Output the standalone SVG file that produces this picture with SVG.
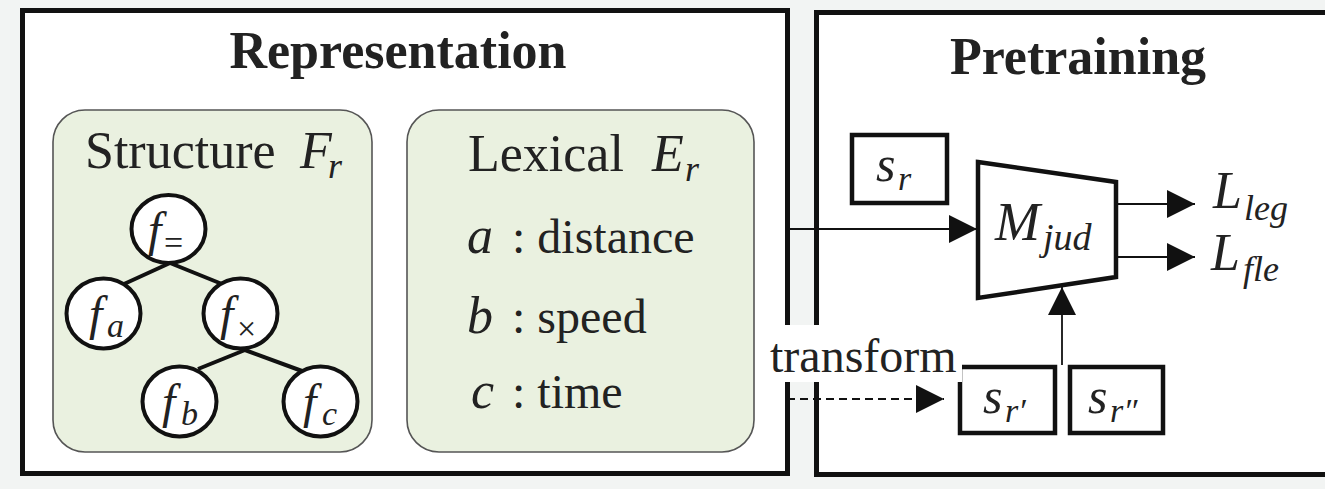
<svg xmlns="http://www.w3.org/2000/svg" width="1325" height="489" viewBox="0 0 1325 489">
<defs>
<style>
.panel{fill:#ffffff;stroke:#111;stroke-width:5}
.sub{fill:#eaf1e0;stroke:#555;stroke-width:1.6}
.title{font-family:"Liberation Serif","Times New Roman",serif;font-weight:bold;font-size:52px;fill:#222;text-anchor:middle}
.rm{font-family:"Liberation Serif","Times New Roman",serif;font-weight:normal;font-style:normal;fill:#222}
.it{font-family:"Liberation Serif","Times New Roman",serif;font-weight:normal;font-style:italic;fill:#222}
.up{font-style:normal}
.node{fill:#fff;stroke:#111;stroke-width:4}
.box{fill:#fff;stroke:#111;stroke-width:4.5}
.edge{stroke:#111;stroke-width:4;fill:none}
.conn{stroke:#111;stroke-width:1.8;fill:none}
</style>
<marker id="ah" viewBox="0 0 28 28" refX="28" refY="14" markerWidth="28" markerHeight="28" markerUnits="userSpaceOnUse" orient="auto">
<path d="M0,0 L28,14 L0,28 z" fill="#111"/>
</marker>
</defs>
<rect x="0" y="0" width="1325" height="489" fill="#f2f4f3"/>

<g id="representation">
<rect class="panel" x="22.5" y="10.5" width="765" height="463"/>
<text class="title" x="398" y="68">Representation</text>
</g>

<g id="pretraining">
<rect class="panel" x="816.5" y="12.5" width="530" height="462"/>
<text class="title" x="1078" y="74">Pretraining</text>
</g>

<g id="structure">
<rect class="sub" x="53" y="110" width="319" height="342" rx="32"/>
<text class="rm" x="85" y="168" font-size="52">Structure</text>
<text class="it" x="300" y="168" font-size="52">F</text>
<text class="it" x="328" y="178" font-size="36">r</text>
</g>

<g id="tree-edges">
<line class="edge" x1="170" y1="263" x2="124" y2="284"/>
<line class="edge" x1="170" y1="263" x2="222" y2="284"/>
<line class="edge" x1="245" y1="350" x2="198" y2="369"/>
<line class="edge" x1="245" y1="350" x2="302" y2="371"/>
</g>

<g id="node-feq">
<ellipse class="node" cx="168.5" cy="229" rx="37" ry="34"/>
<text class="it" x="148" y="246" font-size="48">f</text>
<text class="it up" x="164" y="254" font-size="34">=</text>
</g>
<g id="node-fa">
<ellipse class="node" cx="103.5" cy="313.5" rx="37" ry="35"/>
<text class="it" x="89" y="330" font-size="48">f</text>
<text class="it" x="107" y="337" font-size="34">a</text>
</g>
<g id="node-fx">
<ellipse class="node" cx="240.5" cy="313.5" rx="37" ry="35"/>
<text class="it" x="220" y="330" font-size="48">f</text>
<text class="it up" x="237" y="340" font-size="34">×</text>
</g>
<g id="node-fb">
<ellipse class="node" cx="179.5" cy="401.5" rx="37" ry="35"/>
<text class="it" x="162" y="418" font-size="48">f</text>
<text class="it" x="181" y="425" font-size="34">b</text>
</g>
<g id="node-fc">
<ellipse class="node" cx="320.5" cy="401.5" rx="37" ry="35"/>
<text class="it" x="303" y="418" font-size="48">f</text>
<text class="it" x="322" y="425" font-size="34">c</text>
</g>

<g id="lexical">
<rect class="sub" x="407" y="110" width="347" height="342" rx="32"/>
<text class="rm" x="468" y="171" font-size="52">Lexical</text>
<text class="it" x="652" y="171" font-size="52">E</text>
<text class="it" x="685" y="181" font-size="36">r</text>
<text class="it" x="467" y="253" font-size="52">a</text>
<text class="rm" x="512" y="253" font-size="48">: distance</text>
<text class="it" x="467" y="333" font-size="52">b</text>
<text class="rm" x="512" y="333" font-size="48">: speed</text>
<text class="it" x="471" y="408" font-size="52">c</text>
<text class="rm" x="512" y="408" font-size="48">: time</text>
</g>

<g id="sr">
<rect class="box" x="852" y="135" width="95" height="68"/>
<text class="it" x="876" y="181" font-size="50">s</text>
<text class="it" x="898" y="190" font-size="34">r</text>
</g>

<g id="mjud">
<polygon class="box" stroke-width="3.5" points="978,162 1116,182 1116,277 978,298"/>
<text class="it" x="995" y="240" font-size="54">M</text>
<text class="it" x="1043" y="250" font-size="38">jud</text>
</g>

<g id="srp">
<rect class="box" x="960" y="367" width="95" height="66"/>
<text class="it" x="983" y="413" font-size="50">s</text>
<text class="it" x="1005" y="422" font-size="34">r′</text>
</g>

<g id="srpp">
<rect class="box" x="1070" y="367" width="93" height="66"/>
<text class="it" x="1088" y="413" font-size="50">s</text>
<text class="it" x="1110" y="422" font-size="34">r″</text>
</g>

<g id="loss-leg">
<text class="it" x="1213" y="208" font-size="52">L</text>
<text class="it" x="1244" y="220" font-size="36">leg</text>
</g>
<g id="loss-fle">
<text class="it" x="1211" y="270" font-size="52">L</text>
<text class="it" x="1243" y="281" font-size="36">fle</text>
</g>

<g id="transform-label">
<rect x="768" y="325" width="194" height="57" fill="#ffffff"/>
<text class="rm" x="770" y="372" font-size="48">transform</text>
</g>

<g id="connectors">
<line class="conn" x1="787" y1="229" x2="977" y2="229" marker-end="url(#ah)"/>
<line class="conn" x1="1116" y1="204" x2="1195" y2="204" marker-end="url(#ah)"/>
<line class="conn" x1="1116" y1="257" x2="1195" y2="257" marker-end="url(#ah)"/>
<line class="conn" x1="1062" y1="365" x2="1062" y2="287" marker-end="url(#ah)"/>
<line class="conn" x1="787" y1="399" x2="944" y2="399" stroke-dasharray="8 5" marker-end="url(#ah)"/>
</g>
</svg>
